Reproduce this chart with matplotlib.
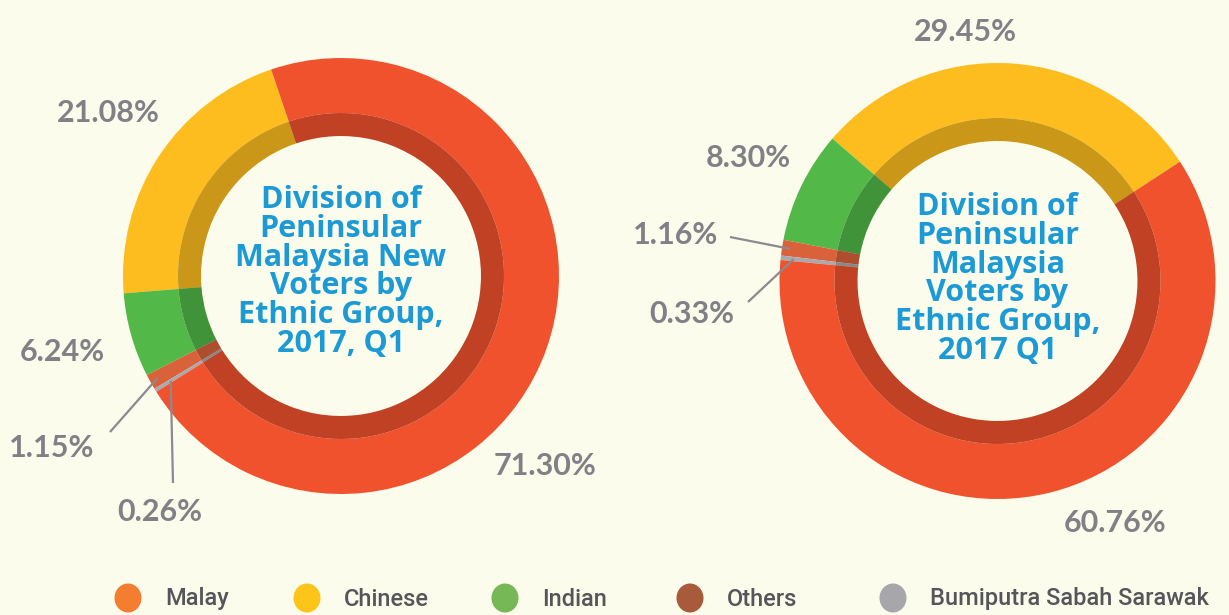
import numpy as np
import matplotlib
matplotlib.use('Agg')
import matplotlib.pyplot as plt
from matplotlib.patches import Ellipse, Wedge

W, H = 1229, 615

groups = ['Malay', 'Chinese', 'Indian', 'Others', 'Bumiputra Sabah Sarawak']
# order drawn counter-clockwise from the top boundary: Chinese, Indian, Others, Bumiputra, Malay
draw_order = ['Chinese', 'Indian', 'Others', 'Bumiputra Sabah Sarawak', 'Malay']

new_voters = {'Malay': 71.30, 'Chinese': 21.08, 'Indian': 6.24, 'Others': 1.15,
              'Bumiputra Sabah Sarawak': 0.26}
all_voters = {'Malay': 60.76, 'Chinese': 29.45, 'Indian': 8.30, 'Others': 1.16,
              'Bumiputra Sabah Sarawak': 0.33}

title_left = 'Division of\nPeninsular\nMalaysia New\nVoters by\nEthnic Group,\n2017, Q1'
title_right = 'Division of\nPeninsular\nMalaysia\nVoters by\nEthnic Group,\n2017 Q1'

ring_col = {'Malay': '#F0522D', 'Chinese': '#FDBD1F', 'Indian': '#52B848',
            'Others': '#D9623A', 'Bumiputra Sabah Sarawak': '#AAAAAE'}
legend_col = {'Malay': '#F47D30', 'Chinese': '#FDC41A', 'Indian': '#76B856',
              'Others': '#A85A3A', 'Bumiputra Sabah Sarawak': '#A7A7AB'}

bg = '#FBFCEB'
label_gray = '#808086'
blue = '#1B9AD6'

fig = plt.figure(figsize=(W / 100, H / 100), dpi=100, facecolor=bg)
ax = fig.add_axes([0, 0, 1, 1])
ax.set_facecolor(bg)


def yy(y):
    # picture rows run downward
    return H - y


def donut(data, cx, cy, start):
    vals = [data[g] for g in draw_order]
    cols = [ring_col[g] for g in draw_order]
    R, r_band, r_in = 218, 163, 140
    ax.pie(vals, colors=cols, radius=R, center=(cx, yy(cy)), startangle=start,
           counterclock=True, wedgeprops=dict(width=R - r_band, linewidth=0))
    ax.pie(vals, colors=cols, radius=r_band, center=(cx, yy(cy)), startangle=start,
           counterclock=True, wedgeprops=dict(width=r_band - r_in, linewidth=0))
    # darker inner band
    ax.add_patch(Wedge((cx, yy(cy)), r_band, 0, 360, width=r_band - r_in,
                       facecolor='black', alpha=0.2, linewidth=0))
    # mid angles for leader lines
    total = sum(vals)
    ang = start
    mids = {}
    for g, v in zip(draw_order, vals):
        a = v / total * 360
        mids[g] = ang + a / 2
        ang += a
    return mids


def point_at(cx, cy, ang, r):
    t = np.deg2rad(ang)
    return cx + r * np.cos(t), yy(cy) + r * np.sin(t)


pct_kw = dict(color=label_gray, fontsize=22, fontweight='bold', family='Lato',
              ha='center', va='center')
title_kw = dict(color=blue, fontsize=22, fontweight='bold', family='Open Sans',
                ha='center', va='center', linespacing=0.95)

# left donut
lx, ly = 341, 276
mids = donut(new_voters, lx, ly, 108.7)
ax.text(lx, yy(272), title_left, **title_kw)
ax.text(108, yy(113), '%.2f%%' % new_voters['Chinese'], **pct_kw)
ax.text(62, yy(352), '%.2f%%' % new_voters['Indian'], **pct_kw)
ax.text(52, yy(448), '%.2f%%' % new_voters['Others'], **pct_kw)
ax.text(160, yy(512), '%.2f%%' % new_voters['Bumiputra Sabah Sarawak'], **pct_kw)
ax.text(545, yy(466), '%.2f%%' % new_voters['Malay'], **pct_kw)
px, py = point_at(lx, ly, mids['Others'], 210)
ax.plot([110, px], [yy(432), py], color='#8A8A90', lw=1.6, solid_capstyle='butt')
px, py = point_at(lx, ly, mids['Bumiputra Sabah Sarawak'], 200)
ax.plot([173, px], [yy(483), py], color='#8A8A90', lw=1.6, solid_capstyle='butt')

# right donut
rx, ry = 997.5, 281
mids = donut(all_voters, rx, ry, 33.2)
ax.text(rx, yy(279), title_right, **title_kw)
ax.text(965, yy(32), '%.2f%%' % all_voters['Chinese'], **pct_kw)
ax.text(748, yy(158), '%.2f%%' % all_voters['Indian'], **pct_kw)
ax.text(676, yy(235), '%.2f%%' % all_voters['Others'], **pct_kw)
ax.text(692, yy(314), '%.2f%%' % all_voters['Bumiputra Sabah Sarawak'], **pct_kw)
ax.text(1115, yy(523), '%.2f%%' % all_voters['Malay'], **pct_kw)
px, py = point_at(rx, ry, mids['Others'], 210)
ax.plot([730, px], [yy(237), py], color='#8A8A90', lw=1.6, solid_capstyle='butt')
px, py = point_at(rx, ry, mids['Bumiputra Sabah Sarawak'], 205)
ax.plot([748, px], [yy(302), py], color='#8A8A90', lw=1.6, solid_capstyle='butt')

# legend
marker_x = [128, 307, 505, 690, 893]
for g, mx in zip(groups, marker_x):
    ax.add_patch(Ellipse((mx, yy(598)), 27, 29, facecolor=legend_col[g], linewidth=0))
    ax.text(mx + 37, yy(599), g, color='#55555A', fontsize=17, family='Roboto',
            fontweight='medium', ha='left', va='center')

ax.set_xlim(0, W)
ax.set_ylim(0, H)
ax.set_aspect('equal')
ax.axis('off')

fig.savefig('out.png', dpi=100, facecolor=bg)
